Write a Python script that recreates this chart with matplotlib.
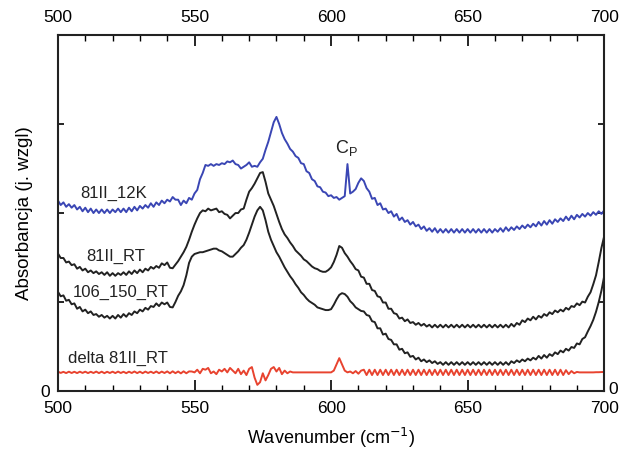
import numpy as np
import matplotlib
matplotlib.use("Agg")
import matplotlib.pyplot as plt
from matplotlib.ticker import MultipleLocator

plt.rcParams['font.family'] = ['Liberation Sans', 'DejaVu Sans']

# wavenumber grid, 1 cm-1 step
wavenumber = np.arange(500, 701)

# 81II_12K (blue)
abs_12k = [
    2.14, 2.09, 2.12, 2.07, 2.10, 2.06, 2.09, 2.04, 2.07, 2.02,
    2.06, 2.01, 2.05, 2.00, 2.04, 2.00, 2.04, 2.00, 2.04, 2.00,
    2.04, 2.01, 2.05, 2.01, 2.05, 2.01, 2.06, 2.02, 2.07, 2.03,
    2.08, 2.05, 2.09, 2.06, 2.11, 2.07, 2.12, 2.09, 2.14, 2.11,
    2.15, 2.13, 2.18, 2.15, 2.15, 2.09, 2.14, 2.11, 2.17, 2.15,
    2.22, 2.26, 2.38, 2.45, 2.54, 2.53, 2.55, 2.53, 2.55, 2.54,
    2.56, 2.55, 2.58, 2.57, 2.59, 2.55, 2.54, 2.50, 2.52, 2.54,
    2.57, 2.52, 2.53, 2.52, 2.57, 2.61, 2.71, 2.80, 2.91, 3.02,
    3.08, 3.00, 2.90, 2.83, 2.78, 2.72, 2.69, 2.64, 2.62, 2.56,
    2.55, 2.47, 2.45, 2.38, 2.36, 2.30, 2.29, 2.24, 2.23, 2.19,
    2.20, 2.17, 2.18, 2.15, 2.17, 2.19, 2.55, 2.22, 2.24, 2.27,
    2.34, 2.39, 2.36, 2.28, 2.24, 2.16, 2.17, 2.09, 2.11, 2.04,
    2.05, 2.00, 2.02, 1.96, 1.99, 1.92, 1.95, 1.90, 1.92, 1.87,
    1.90, 1.85, 1.87, 1.82, 1.85, 1.80, 1.83, 1.79, 1.83, 1.78,
    1.82, 1.78, 1.82, 1.78, 1.82, 1.78, 1.82, 1.78, 1.82, 1.78,
    1.82, 1.78, 1.82, 1.78, 1.82, 1.78, 1.82, 1.78, 1.82, 1.78,
    1.82, 1.79, 1.83, 1.79, 1.84, 1.80, 1.84, 1.81, 1.85, 1.82,
    1.86, 1.83, 1.87, 1.84, 1.88, 1.85, 1.90, 1.86, 1.91, 1.87,
    1.92, 1.88, 1.93, 1.90, 1.94, 1.91, 1.96, 1.92, 1.97, 1.93,
    1.98, 1.95, 1.99, 1.96, 2.00, 1.97, 2.01, 1.98, 2.02, 1.99,
    2.03,
]

# 81II_RT (upper black)
abs_81_rt = [
    1.545, 1.495, 1.495, 1.445, 1.455, 1.415, 1.425, 1.375, 1.395, 1.355,
    1.375, 1.335, 1.355, 1.325, 1.345, 1.315, 1.335, 1.305, 1.335, 1.295,
    1.325, 1.295, 1.325, 1.305, 1.335, 1.305, 1.345, 1.315, 1.355, 1.325,
    1.365, 1.335, 1.375, 1.355, 1.395, 1.375, 1.405, 1.385, 1.435, 1.415,
    1.445, 1.385, 1.38, 1.42, 1.46, 1.51, 1.56, 1.62, 1.70, 1.79,
    1.87, 1.94, 2.00, 2.03, 2.02, 2.05, 2.03, 2.04, 2.05, 2.01,
    2.02, 1.99, 1.98, 1.94, 1.97, 2.00, 2.00, 2.04, 2.05, 2.15,
    2.24, 2.28, 2.33, 2.39, 2.45, 2.46, 2.35, 2.22, 2.15, 2.08,
    1.99, 1.90, 1.82, 1.76, 1.72, 1.67, 1.63, 1.58, 1.55, 1.52,
    1.48, 1.46, 1.43, 1.40, 1.38, 1.37, 1.35, 1.34, 1.34, 1.36,
    1.39, 1.45, 1.53, 1.63, 1.61, 1.55, 1.51, 1.46, 1.42, 1.37,
    1.355, 1.285, 1.275, 1.205, 1.205, 1.135, 1.125, 1.065, 1.055, 0.995,
    0.995, 0.925, 0.925, 0.875, 0.865, 0.815, 0.825, 0.785, 0.805, 0.765,
    0.775, 0.745, 0.765, 0.735, 0.755, 0.725, 0.745, 0.715, 0.745, 0.715,
    0.745, 0.715, 0.745, 0.715, 0.745, 0.715, 0.745, 0.715, 0.745, 0.715,
    0.745, 0.715, 0.745, 0.715, 0.745, 0.715, 0.745, 0.715, 0.745, 0.715,
    0.745, 0.715, 0.745, 0.715, 0.745, 0.715, 0.755, 0.725, 0.765, 0.745,
    0.795, 0.775, 0.815, 0.795, 0.835, 0.805, 0.845, 0.825, 0.865, 0.845,
    0.885, 0.865, 0.905, 0.885, 0.915, 0.895, 0.935, 0.915, 0.955, 0.945,
    0.985, 0.965, 1.005, 0.995, 1.06, 1.11, 1.20, 1.30, 1.45, 1.61,
    1.74,
]

# 106_150_RT (lower black)
abs_106_rt = [
    1.115, 1.065, 1.075, 1.015, 1.025, 0.975, 0.985, 0.925, 0.945, 0.895,
    0.915, 0.875, 0.895, 0.855, 0.865, 0.835, 0.855, 0.825, 0.845, 0.815,
    0.845, 0.815, 0.855, 0.825, 0.865, 0.835, 0.875, 0.855, 0.895, 0.875,
    0.915, 0.895, 0.935, 0.915, 0.955, 0.945, 0.985, 0.955, 0.995, 0.975,
    0.995, 0.945, 0.94, 1.00, 1.07, 1.12, 1.19, 1.30, 1.44, 1.51,
    1.54, 1.55, 1.56, 1.56, 1.57, 1.58, 1.59, 1.60, 1.60, 1.58,
    1.57, 1.55, 1.53, 1.51, 1.51, 1.54, 1.57, 1.61, 1.64, 1.70,
    1.78, 1.87, 1.96, 2.03, 2.07, 2.03, 1.92, 1.79, 1.70, 1.63,
    1.56, 1.51, 1.45, 1.39, 1.34, 1.29, 1.25, 1.20, 1.16, 1.11,
    1.08, 1.04, 1.01, 0.99, 0.97, 0.94, 0.93, 0.92, 0.91, 0.91,
    0.92, 0.97, 1.03, 1.08, 1.10, 1.09, 1.06, 1.01, 0.98, 0.94,
    0.92, 0.90, 0.895, 0.855, 0.845, 0.785, 0.775, 0.705, 0.705, 0.635,
    0.645, 0.585, 0.575, 0.525, 0.525, 0.465, 0.475, 0.425, 0.435, 0.385,
    0.395, 0.355, 0.375, 0.335, 0.355, 0.325, 0.345, 0.315, 0.335, 0.305,
    0.325, 0.295, 0.325, 0.295, 0.325, 0.295, 0.325, 0.295, 0.325, 0.295,
    0.325, 0.295, 0.325, 0.295, 0.325, 0.295, 0.325, 0.295, 0.325, 0.295,
    0.325, 0.295, 0.325, 0.295, 0.325, 0.295, 0.335, 0.315, 0.345, 0.325,
    0.355, 0.335, 0.365, 0.345, 0.375, 0.355, 0.395, 0.365, 0.405, 0.375,
    0.415, 0.395, 0.435, 0.415, 0.455, 0.435, 0.475, 0.455, 0.495, 0.485,
    0.535, 0.525, 0.585, 0.605, 0.67, 0.73, 0.80, 0.89, 1.00, 1.13,
    1.29,
]

# delta 81II_RT (red)
abs_delta = [
    0.218, 0.204, 0.216, 0.202, 0.218, 0.203, 0.217, 0.202, 0.218, 0.204,
    0.218, 0.202, 0.217, 0.203, 0.219, 0.202, 0.218, 0.201, 0.217, 0.203,
    0.218, 0.202, 0.219, 0.203, 0.217, 0.201, 0.218, 0.203, 0.220, 0.202,
    0.218, 0.201, 0.219, 0.203, 0.218, 0.202, 0.220, 0.201, 0.219, 0.203,
    0.221, 0.200, 0.222, 0.201, 0.220, 0.199, 0.222, 0.200, 0.221, 0.22,
    0.21, 0.24, 0.20, 0.25, 0.24, 0.26, 0.20, 0.22, 0.19, 0.24,
    0.22, 0.25, 0.21, 0.26, 0.23, 0.20, 0.25, 0.19, 0.23, 0.18,
    0.25, 0.27, 0.15, 0.07, 0.10, 0.20, 0.12, 0.18, 0.25, 0.27,
    0.22, 0.26, 0.19, 0.23, 0.20, 0.22, 0.21, 0.21, 0.21, 0.21,
    0.21, 0.21, 0.21, 0.21, 0.21, 0.21, 0.21, 0.21, 0.21, 0.21,
    0.21, 0.23, 0.30, 0.37, 0.30, 0.23, 0.21, 0.22, 0.20, 0.225,
    0.195, 0.23, 0.24, 0.18, 0.24, 0.18, 0.24, 0.18, 0.24, 0.18,
    0.24, 0.18, 0.24, 0.18, 0.24, 0.18, 0.24, 0.18, 0.24, 0.18,
    0.24, 0.18, 0.24, 0.18, 0.24, 0.18, 0.24, 0.18, 0.24, 0.18,
    0.24, 0.18, 0.24, 0.18, 0.24, 0.18, 0.24, 0.18, 0.24, 0.18,
    0.24, 0.18, 0.24, 0.18, 0.24, 0.18, 0.24, 0.18, 0.24, 0.18,
    0.24, 0.18, 0.24, 0.18, 0.24, 0.18, 0.24, 0.18, 0.24, 0.18,
    0.24, 0.18, 0.24, 0.18, 0.24, 0.18, 0.24, 0.18, 0.24, 0.18,
    0.24, 0.18, 0.24, 0.18, 0.24, 0.18, 0.235, 0.19, 0.225, 0.20,
    0.215, 0.21, 0.21, 0.21, 0.21, 0.21, 0.21, 0.212, 0.212, 0.214,
    0.215,
]

series = [
    (abs_12k, '#3a46b4'),
    (abs_81_rt, '#222222'),
    (abs_106_rt, '#222222'),
    (abs_delta, '#e8432f'),
]

fig = plt.figure(figsize=(6.2, 4.49), dpi=100)
ax = fig.add_axes([0.0935, 0.129, 0.881, 0.793])

for vals, col in series:
    ax.plot(wavenumber, vals, color=col, lw=1.4)

ax.set_xlim(500, 700)
ax.set_ylim(0, 4)
ax.xaxis.set_major_locator(MultipleLocator(50))
ax.xaxis.set_minor_locator(MultipleLocator(10))
ax.set_yticks([0, 1, 2, 3, 4])
ax.set_yticklabels(['0', '', '', '', ''])
ax.tick_params(axis='x', which='major', direction='in', length=8, width=1.2,
               top=True, labeltop=True, labelsize=12.5, pad=7)
ax.tick_params(axis='x', which='minor', direction='in', length=4, width=1.0, top=True)
ax.tick_params(axis='y', direction='in', length=4, width=1.2, right=True,
               labelright=False, labelsize=12.5, pad=6)
for sp in ax.spines.values():
    sp.set_linewidth(1.5)
    sp.set_color('#222222')

# the right-hand "0", squeezed in at the figure edge
ax.annotate('0', xy=(1, 0), xycoords='axes fraction', xytext=(3, 1),
            textcoords='offset points', ha='left', va='center', fontsize=12.5)

ax.set_xlabel('Wavenumber (cm$^{-1}$)', fontsize=13, labelpad=7)
ax.set_ylabel('Absorbancja (j. wzgl)', fontsize=13.5, labelpad=5)

ax.text(520.5, 2.22, '81II_12K', fontsize=12, ha='center', va='center', color='#222222')
ax.text(521, 1.51, '81II_RT', fontsize=12, ha='center', va='center', color='#222222')
ax.text(523, 1.11, '106_150_RT', fontsize=12, ha='center', va='center', color='#222222')
ax.text(522, 0.37, 'delta 81II_RT', fontsize=12, ha='center', va='center', color='#222222')
ax.text(605.5, 2.73, 'C$_\\mathregular{P}$', fontsize=13, ha='center', va='center', color='#222222')

fig.savefig('out.png', dpi=100)
